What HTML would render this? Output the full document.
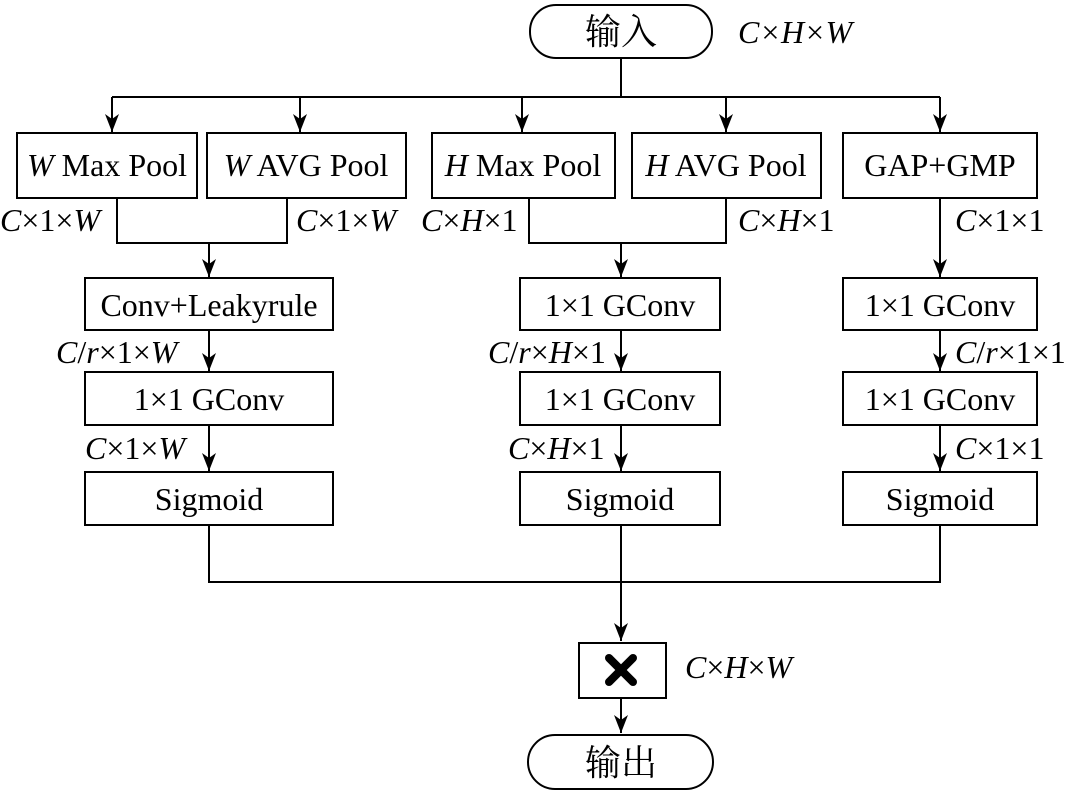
<!DOCTYPE html>
<html><head><meta charset="utf-8"><style>
body{margin:0;background:#fff}
svg text{font-family:"Liberation Serif","Noto Serif CJK SC",serif;font-size:32px;fill:#000}
.i{font-style:italic}
.cn{font-size:36px}
</style></head><body>
<svg width="1070" height="791" viewBox="0 0 1070 791" xmlns="http://www.w3.org/2000/svg">
<defs><marker id="a" markerWidth="18" markerHeight="14" refX="18" refY="7" orient="auto" markerUnits="userSpaceOnUse" viewBox="0 0 18 14"><path d="M0,0 L18,7 L0,14 L5,7 Z" fill="#000"/></marker></defs>
<g stroke="#000" stroke-width="2" fill="none">
<rect x="530" y="5" width="182" height="53" rx="26"/>
<rect x="528" y="735" width="185" height="54" rx="27"/>
<line x1="621" y1="58" x2="621" y2="97"/>
<line x1="112" y1="97" x2="940" y2="97"/>
<line x1="112" y1="97" x2="112" y2="132" marker-end="url(#a)"/>
<line x1="300" y1="97" x2="300" y2="132" marker-end="url(#a)"/>
<line x1="522" y1="97" x2="522" y2="132" marker-end="url(#a)"/>
<line x1="726" y1="97" x2="726" y2="132" marker-end="url(#a)"/>
<line x1="940" y1="97" x2="940" y2="132" marker-end="url(#a)"/>
<rect x="17" y="133" width="180" height="65"/>
<rect x="207" y="133" width="199" height="65"/>
<rect x="432" y="133" width="183" height="65"/>
<rect x="632" y="133" width="189" height="65"/>
<rect x="843" y="133" width="194" height="65"/>
<polyline points="117,198 117,243 287,243 287,198"/>
<line x1="209" y1="243" x2="209" y2="277" marker-end="url(#a)"/>
<polyline points="529,198 529,243 726,243 726,198"/>
<line x1="621" y1="243" x2="621" y2="277" marker-end="url(#a)"/>
<line x1="940" y1="198" x2="940" y2="277" marker-end="url(#a)"/>
<rect x="85" y="278" width="248" height="52"/>
<rect x="520" y="278" width="200" height="52"/>
<rect x="843" y="278" width="194" height="52"/>
<line x1="209" y1="330" x2="209" y2="371" marker-end="url(#a)"/>
<line x1="621" y1="330" x2="621" y2="371" marker-end="url(#a)"/>
<line x1="940" y1="330" x2="940" y2="371" marker-end="url(#a)"/>
<rect x="85" y="372" width="248" height="53"/>
<rect x="520" y="372" width="200" height="53"/>
<rect x="843" y="372" width="194" height="53"/>
<line x1="209" y1="425" x2="209" y2="471" marker-end="url(#a)"/>
<line x1="621" y1="425" x2="621" y2="471" marker-end="url(#a)"/>
<line x1="940" y1="425" x2="940" y2="471" marker-end="url(#a)"/>
<rect x="85" y="472" width="248" height="53"/>
<rect x="520" y="472" width="200" height="53"/>
<rect x="843" y="472" width="194" height="53"/>
<polyline points="209,525 209,582 940,582 940,525"/>
<line x1="621" y1="525" x2="621" y2="641" marker-end="url(#a)"/>
<rect x="579" y="643" width="87" height="55"/>
<line x1="621" y1="698" x2="621" y2="733" marker-end="url(#a)"/>
</g>
<g stroke="#000" stroke-width="8" stroke-linecap="round">
<line x1="609" y1="658" x2="633" y2="682"/>
<line x1="633" y1="658" x2="609" y2="682"/>
</g>
<text x="621" y="44" text-anchor="middle" class="cn">输入</text>
<text x="621" y="775" text-anchor="middle" class="cn">输出</text>
<text x="738" y="43" class="i">C×H×W</text>
<text x="685" y="678"><tspan class="i">C</tspan>×<tspan class="i">H</tspan>×<tspan class="i">W</tspan></text>
<g text-anchor="middle">
<text x="107" y="176"><tspan class="i">W</tspan> Max Pool</text>
<text x="306" y="176"><tspan class="i">W</tspan> AVG Pool</text>
<text x="523" y="176"><tspan class="i">H</tspan> Max Pool</text>
<text x="726" y="176"><tspan class="i">H</tspan> AVG Pool</text>
<text x="940" y="176">GAP+GMP</text>
<text x="209" y="316">Conv+Leakyrule</text>
<text x="620" y="316">1×1 GConv</text>
<text x="940" y="316">1×1 GConv</text>
<text x="209" y="410">1×1 GConv</text>
<text x="620" y="410">1×1 GConv</text>
<text x="940" y="410">1×1 GConv</text>
<text x="209" y="510">Sigmoid</text>
<text x="620" y="510">Sigmoid</text>
<text x="940" y="510">Sigmoid</text>
</g>
<text x="0" y="231"><tspan class="i">C</tspan>×1×<tspan class="i">W</tspan></text>
<text x="296" y="231"><tspan class="i">C</tspan>×1×<tspan class="i">W</tspan></text>
<text x="421" y="231"><tspan class="i">C</tspan>×<tspan class="i">H</tspan>×1</text>
<text x="738" y="231"><tspan class="i">C</tspan>×<tspan class="i">H</tspan>×1</text>
<text x="955" y="231"><tspan class="i">C</tspan>×1×1</text>
<text x="56" y="363"><tspan class="i">C</tspan>/<tspan class="i">r</tspan>×1×<tspan class="i">W</tspan></text>
<text x="488" y="363"><tspan class="i">C</tspan>/<tspan class="i">r</tspan>×<tspan class="i">H</tspan>×1</text>
<text x="955" y="363"><tspan class="i">C</tspan>/<tspan class="i">r</tspan>×1×1</text>
<text x="85" y="459"><tspan class="i">C</tspan>×1×<tspan class="i">W</tspan></text>
<text x="508" y="459"><tspan class="i">C</tspan>×<tspan class="i">H</tspan>×1</text>
<text x="955" y="459"><tspan class="i">C</tspan>×1×1</text>
</svg>
</body></html>
